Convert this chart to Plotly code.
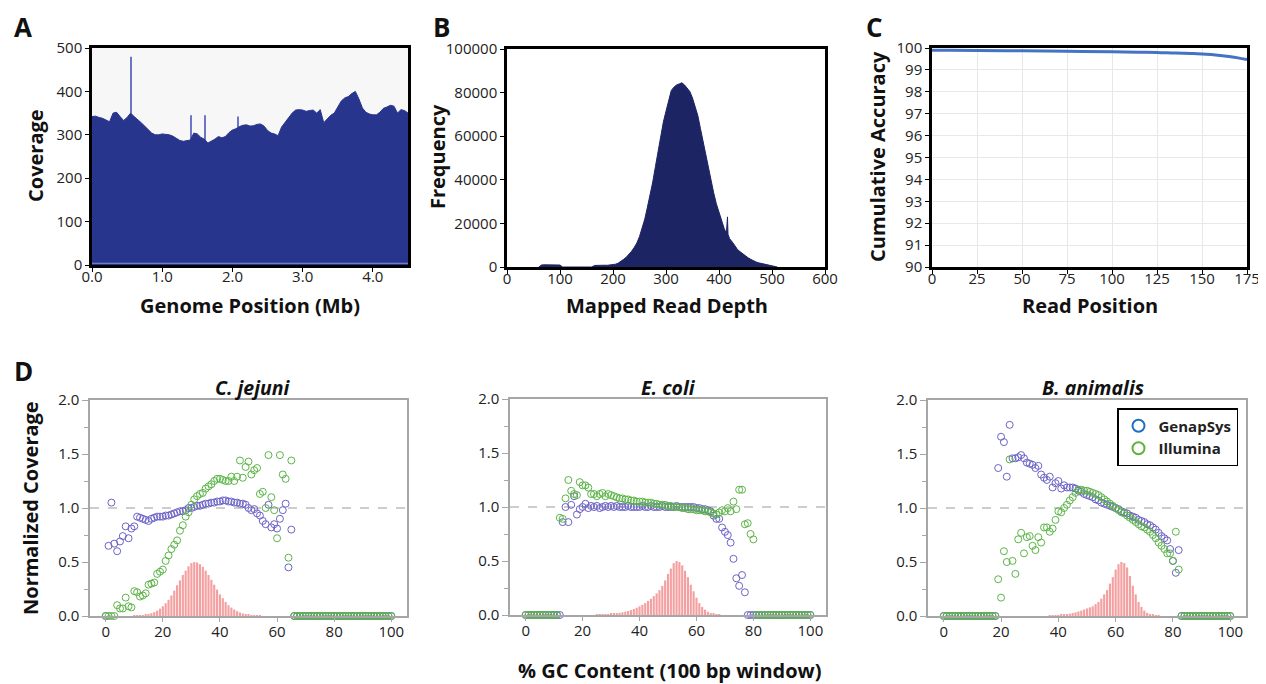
import plotly.graph_objects as go
import numpy as np

FONT = "Open Sans"

# ---------------- Panel A: coverage along genome ----------------
genome_mb = [round(i * 0.05, 2) for i in range(91)]
coverage = [342, 343, 340, 338, 334, 330, 350, 352, 342, 333,
            340, 350, 342, 336, 328, 320, 311, 304, 300, 300,
            302, 301, 300, 297, 292, 287, 285, 286, 288, 304,
            302, 294, 290, 281, 285, 290, 296, 293, 296, 305,
            311, 314, 319, 322, 323, 320, 321, 324, 325, 320,
            310, 304, 302, 298, 318, 328, 340, 350, 357, 358,
            357, 354, 356, 357, 350, 358, 328, 337, 345, 350,
            365, 378, 385, 388, 395, 400, 383, 362, 352, 348,
            346, 346, 352, 361, 364, 368, 366, 350, 358, 356,
            350]
spike_pos = [0.555, 1.405, 1.61, 2.075]
spike_top = [480, 345, 345, 342]
dip_pos = [0.28, 2.55, 3.63]
dip_low = [230, 275, 315]

# ---------------- Panel B: read depth histogram ----------------
depth = [60, 65, 70, 80, 90, 100, 105, 160, 165, 170, 180, 190, 200, 205, 210, 215,
         220, 225, 230, 235, 240, 245, 250, 255, 260, 265, 270, 275, 280, 285,
         290, 295, 300, 305, 310, 315, 320, 325, 330, 335, 340, 345, 350, 355,
         360, 365, 370, 375, 380, 385, 390, 395, 400, 405, 410, 414, 415, 416,
         417, 420, 425, 430, 435, 440, 445, 450, 455, 460, 465, 470, 475, 480,
         485, 490, 495, 500, 505, 510]
frequency = [0, 900, 1000, 1000, 1000, 900, 0, 0, 700, 800, 800, 800, 1000, 1300, 1800, 2500,
             3500, 4500, 5800, 7200, 9000, 11000, 14000, 17500, 22000, 27500, 33000, 39000, 46000, 53000,
             61000, 66500, 71500, 77000, 81000, 82500, 83500, 84000, 84500, 83500, 82000, 80500, 77500, 74000,
             69500, 63500, 57500, 51500, 45000, 39000, 34000, 29000, 25000, 20500, 17500, 15500, 23000, 23000,
             15000, 13000, 11500, 9500, 8000, 7000, 6000, 5000, 4200, 3500, 2800, 2300, 1900, 1600,
             1300, 900, 600, 400, 200, 0]

# ---------------- Panel C: cumulative accuracy ----------------
read_pos = [0, 10, 25, 50, 75, 100, 115, 125, 135, 145, 150, 155, 160, 165, 170, 175]
accuracy = [99.90, 99.90, 99.89, 99.87, 99.85, 99.83, 99.81, 99.80, 99.77, 99.75, 99.73, 99.70, 99.66, 99.61, 99.55, 99.47]

# ---------------- Panel D: GC bias ----------------
gc = list(range(101))
species = ["C. jejuni", "E. coli", "B. animalis"]

cj_gen_start = 0
cj_gen = [0.0, 0.65, 1.05, 0.67, 0.60, 0.69, 0.74, 0.83, 0.72, 0.81,
          0.83, 0.92, 0.91, 0.90, 0.89, 0.88, 0.90, 0.91, 0.92, 0.92,
          0.92, 0.93, 0.93, 0.94, 0.95, 0.96, 0.97, 0.97, 0.98, 1.00,
          1.00, 1.01, 1.02, 1.02, 1.03, 1.04, 1.04, 1.05, 1.05, 1.06,
          1.06, 1.07, 1.07, 1.06, 1.06, 1.05, 1.05, 1.04, 1.04, 1.03,
          1.00, 0.98, 0.99, 0.95, 0.93, 0.88, 0.85, 1.03, 0.82, 0.85,
          0.81, 0.90, 0.98, 1.04, 0.45, 0.80]
cj_ill_start = 0
cj_ill = [0.0, 0.0, 0.0, 0.0, 0.10, 0.07, 0.07, 0.17, 0.09, 0.08,
          0.23, 0.22, 0.18, 0.19, 0.21, 0.29, 0.30, 0.31, 0.39, 0.41,
          0.43, 0.51, 0.56, 0.62, 0.66, 0.70, 0.79, 0.84, 0.92, 0.96,
          1.03, 1.08, 1.11, 1.13, 1.14, 1.18, 1.20, 1.22, 1.25, 1.27,
          1.27, 1.26, 1.25, 1.25, 1.29, 1.25, 1.29, 1.44, 1.28, 1.38,
          1.43, 1.31, 1.35, 1.37, 1.13, 1.15, 1.00, 1.49, 1.10, 0.98,
          0.72, 1.49, 1.31, 1.27, 0.54, 1.44]
cj_dist_start = 10
cj_dist = [0.002, 0.004, 0.006, 0.009, 0.013, 0.018, 0.026, 0.036, 0.05, 0.068,
           0.09, 0.118, 0.15, 0.19, 0.235, 0.285, 0.33, 0.38, 0.42, 0.46,
           0.49, 0.50, 0.495, 0.48, 0.455, 0.42, 0.38, 0.335, 0.29, 0.245,
           0.20, 0.165, 0.13, 0.10, 0.078, 0.06, 0.045, 0.033, 0.024, 0.017,
           0.012, 0.008, 0.005, 0.003, 0.002]

ec_gen_start = 13
ec_gen = [0.86, 1.00, 0.86, 1.02, 1.10, 0.93, 0.98, 1.00, 1.03, 0.99,
          1.01, 1.00, 1.01, 0.99, 1.00, 1.01, 1.00, 1.01, 1.00, 1.01,
          1.00, 1.00, 1.00, 1.01, 1.00, 1.00, 1.00, 1.00, 1.01, 1.00,
          1.00, 1.01, 1.00, 1.00, 1.00, 1.01, 1.00, 1.00, 1.00, 1.00,
          1.01, 1.00, 1.00, 1.00, 1.00, 1.00, 1.00, 0.99, 0.99, 0.98,
          0.98, 0.97, 0.96, 0.92, 0.89, 0.89, 0.81, 0.77, 0.74, 0.67,
          0.52, 0.34, 0.27, 0.37, 0.21]
ec_ill_start = 12
ec_ill = [0.90, 0.89, 1.08, 1.25, 1.15, 1.12, 1.11, 1.23, 1.20, 1.20,
          1.18, 1.12, 1.12, 1.10, 1.12, 1.13, 1.10, 1.12, 1.11, 1.10,
          1.09, 1.08, 1.08, 1.07, 1.07, 1.06, 1.06, 1.05, 1.05, 1.05,
          1.04, 1.04, 1.04, 1.03, 1.03, 1.02, 1.02, 1.02, 1.01, 1.01,
          1.00, 1.00, 1.00, 0.99, 0.99, 0.98, 0.98, 0.98, 0.97, 0.97,
          0.97, 0.96, 0.96, 0.95, 0.94, 0.93, 0.95, 0.97, 0.96, 0.99,
          0.96, 1.05, 0.98, 1.16, 1.16, 0.84, 0.85, 0.75, 0.70]
ec_dist_start = 25
ec_dist = [0.003, 0.004, 0.005, 0.006, 0.008, 0.010, 0.013, 0.016, 0.020, 0.025,
           0.031, 0.037, 0.045, 0.055, 0.067, 0.080, 0.095, 0.110, 0.130, 0.150,
           0.175, 0.200, 0.230, 0.270, 0.320, 0.380, 0.430, 0.480, 0.500, 0.490,
           0.460, 0.410, 0.350, 0.280, 0.220, 0.160, 0.110, 0.075, 0.050, 0.030,
           0.018, 0.010, 0.006, 0.003]

ba_gen_start = 19
ba_gen = [1.37, 1.66, 1.61, 1.29, 1.77, 1.46, 1.46, 1.47, 1.49, 1.46,
          1.42, 1.41, 1.40, 1.37, 1.39, 1.31, 1.28, 1.26, 1.29, 1.19,
          1.23, 1.25, 1.18, 1.21, 1.19, 1.19, 1.19, 1.18, 1.16, 1.15,
          1.13, 1.12, 1.11, 1.10, 1.08, 1.07, 1.05, 1.04, 1.03, 1.02,
          1.01, 1.00, 0.99, 0.97, 0.96, 0.95, 0.93, 0.92, 0.91, 0.89,
          0.88, 0.87, 0.85, 0.84, 0.82, 0.80, 0.77, 0.74, 0.72, 0.70,
          0.62, 0.51, 0.40, 0.61]
ba_ill_start = 19
ba_ill = [0.34, 0.17, 0.60, 0.50, 1.45, 0.51, 0.39, 0.71, 0.77, 0.58,
          0.73, 0.74, 0.65, 0.61, 0.73, 0.68, 0.82, 0.82, 0.78, 0.81,
          0.89, 0.97, 0.96, 1.00, 1.03, 1.07, 1.10, 1.14, 1.17, 1.17,
          1.16, 1.16, 1.15, 1.14, 1.13, 1.12, 1.10, 1.08, 1.06, 1.04,
          1.02, 1.00, 0.98, 0.96, 0.95, 0.93, 0.91, 0.89, 0.87, 0.85,
          0.83, 0.82, 0.80, 0.78, 0.75, 0.72, 0.68, 0.65, 0.62, 0.58,
          0.58, 0.51, 0.78, 0.43]
ba_dist_start = 37
ba_dist = [0.003, 0.005, 0.006, 0.008, 0.011, 0.014, 0.018, 0.022, 0.028, 0.034,
           0.042, 0.050, 0.060, 0.070, 0.080, 0.090, 0.110, 0.130, 0.160, 0.200,
           0.240, 0.300, 0.360, 0.430, 0.480, 0.500, 0.490, 0.450, 0.370, 0.280,
           0.200, 0.130, 0.085, 0.050, 0.030, 0.018, 0.010, 0.006, 0.003]


def pad(start, vals, n=101):
    out = [0.0] * start + list(vals)
    return out + [0.0] * (n - len(out))


gen_series = [pad(cj_gen_start, cj_gen), pad(ec_gen_start, ec_gen), pad(ba_gen_start, ba_gen)]
ill_series = [pad(cj_ill_start, cj_ill), pad(ec_ill_start, ec_ill), pad(ba_ill_start, ba_ill)]
dist_series = [(cj_dist_start, cj_dist), (ec_dist_start, ec_dist), (ba_dist_start, ba_dist)]

# ---------------- styling ----------------
NAVY_A = "#28358c"
NAVY_B = "#1d2463"
LINE_C = "#4472c4"
PURPLE = "#6c63c6"
GREEN = "#5cb548"
RED = "#f4a0a0"
OFF = 8                      # page body margin
W, H = 1266 - OFF, 684 - OFF


def px(x):
    return (x - OFF) / W


def py(y):
    return 1 - (y - OFF) / H


fig = go.Figure()

# A
fig.add_trace(go.Scatter(x=genome_mb, y=coverage, mode="lines", fill="tozeroy",
                         line=dict(color=NAVY_A, width=1), fillcolor=NAVY_A,
                         xaxis="x", yaxis="y", showlegend=False, hoverinfo="skip"))
spike_base = list(np.interp(spike_pos, genome_mb, coverage))
fig.add_trace(go.Bar(x=spike_pos, y=[t - b for t, b in zip(spike_top, spike_base)], base=spike_base,
                     width=0.016, marker=dict(color="#6d75c6", line=dict(width=0)),
                     xaxis="x", yaxis="y", showlegend=False, hoverinfo="skip"))
dip_top = list(np.interp(dip_pos, genome_mb, coverage))
fig.add_trace(go.Bar(x=dip_pos, y=[t - b for t, b in zip(dip_top, dip_low)], base=dip_low,
                     width=0.012, marker=dict(color="#8990d0", line=dict(width=0)),
                     xaxis="x", yaxis="y", showlegend=False, hoverinfo="skip"))

# B
fig.add_trace(go.Scatter(x=depth, y=frequency, mode="lines", fill="tozeroy",
                         line=dict(color=NAVY_B, width=1), fillcolor=NAVY_B,
                         xaxis="x2", yaxis="y2", showlegend=False, hoverinfo="skip"))

# C
fig.add_trace(go.Scatter(x=read_pos, y=accuracy, mode="lines", line=dict(color=LINE_C, width=3, shape="spline"),
                         xaxis="x3", yaxis="y3", showlegend=False, cliponaxis=False, hoverinfo="skip"))

# D
for k in range(3):
    xa, ya = f"x{k + 4}", f"y{k + 4}"
    s, d = dist_series[k]
    fig.add_trace(go.Bar(x=list(range(s, s + len(d))), y=d, width=0.75,
                         marker=dict(color=RED, line=dict(width=0)),
                         xaxis=xa, yaxis=ya, showlegend=False, hoverinfo="skip"))
    fig.add_trace(go.Scatter(x=gc, y=gen_series[k], mode="markers",
                             marker=dict(symbol="circle-open", size=7, color=PURPLE, line=dict(width=1)),
                             xaxis=xa, yaxis=ya, showlegend=False, cliponaxis=False, hoverinfo="skip"))
    fig.add_trace(go.Scatter(x=gc, y=ill_series[k], mode="markers",
                             marker=dict(symbol="circle-open", size=7, color=GREEN, line=dict(width=1)),
                             xaxis=xa, yaxis=ya, showlegend=False, cliponaxis=False, hoverinfo="skip"))

# legend-only entries
fig.add_trace(go.Scatter(x=[None], y=[None], mode="markers", name="<b>GenapSys</b>",
                         marker=dict(symbol="circle-open", size=10, color="#1f6fc0", line=dict(width=3)),
                         xaxis="x6", yaxis="y6"))
fig.add_trace(go.Scatter(x=[None], y=[None], mode="markers", name="<b>Illumina</b>",
                         marker=dict(symbol="circle-open", size=10, color="#5fb33b", line=dict(width=3)),
                         xaxis="x6", yaxis="y6"))

tickfont = dict(family=FONT, size=15, color="#222")


def frame_axis(**kw):
    d = dict(showline=True, mirror=True, linecolor="black", linewidth=2.5,
             ticks="outside", ticklen=4, tickcolor="black", tickwidth=1,
             showgrid=False, zeroline=False, tickfont=tickfont, automargin=False)
    d.update(kw)
    return d


def d_axis(**kw):
    d = dict(showline=True, mirror=True, linecolor="#a6a6a6", linewidth=1.5,
             ticks="outside", ticklen=5, tickcolor="#a6a6a6", tickwidth=1,
             showgrid=False, zeroline=False, tickfont=tickfont, automargin=False)
    d.update(kw)
    return d


layout = dict(
    width=W, height=H, margin=dict(l=0, r=0, t=0, b=0, pad=0), autosize=False,
    paper_bgcolor="white", plot_bgcolor="white",
    font=dict(family=FONT, size=15, color="#222"),
    barmode="overlay",
    xaxis=frame_axis(domain=[px(92), px(408)], anchor="y", range=[0, 4.5],
                     tickvals=[0, 1, 2, 3, 4], tickformat=".1f", ticklabelstandoff=-8),
    yaxis=frame_axis(domain=[py(265), py(48)], anchor="x", range=[0, 500], dtick=100),
    xaxis2=frame_axis(domain=[px(507), px(825)], anchor="y2", range=[0, 600], dtick=100,
                      ticklabelstandoff=-8),
    yaxis2=frame_axis(domain=[py(267), py(49)], anchor="x2", range=[0, 100000], dtick=20000,
                      tickformat="d"),
    xaxis3=frame_axis(domain=[px(932), px(1247)], anchor="y3", range=[0, 175], dtick=25,
                      showgrid=True, gridcolor="#e8e8e8", ticklabelstandoff=-8),
    yaxis3=frame_axis(domain=[py(267), py(48)], anchor="x3", range=[90, 100], dtick=1,
                      showgrid=True, gridcolor="#e8e8e8"),
    legend=dict(x=px(1117), y=py(408), xanchor="left", yanchor="top",
                bordercolor="black", borderwidth=1.5, bgcolor="white",
                font=dict(family=FONT, size=15, color="#222"),
                itemsizing="constant", tracegroupgap=2),
)
d_domains = [(90, 407, 400, 616), (510, 826, 399, 615), (928, 1246, 400, 616)]
for k, (x0, x1, y0, y1) in enumerate(d_domains):
    n = k + 4
    layout[f"xaxis{n}"] = d_axis(domain=[px(x0), px(x1)], anchor=f"y{n}", range=[-5.5, 105.5],
                                 tickvals=[0, 20, 40, 60, 80, 100], ticklen=4, ticklabelstandoff=-3)
    layout[f"yaxis{n}"] = d_axis(domain=[py(y1), py(y0)], anchor=f"x{n}", range=[0, 2],
                                 tickvals=[0, 0.5, 1.0, 1.5, 2.0], tickformat=".1f", ticklen=6,
                                 minor=dict(ticks="outside", dtick=0.25, ticklen=4,
                                            tickcolor="#a6a6a6", showgrid=False))
fig.update_layout(**layout)

shapes = [
    dict(type="rect", xref="x domain", yref="y domain", x0=0, x1=1, y0=0, y1=1,
         fillcolor="#f7f7f7", line=dict(width=0), layer="below"),
    dict(type="line", xref="x domain", yref="y", x0=0, x1=1, y0=4, y1=4,
         line=dict(color="#8a93d6", width=1)),
]
for k in range(3):
    n = k + 4
    shapes.append(dict(type="line", xref=f"x{n} domain", yref=f"y{n}", x0=0, x1=1, y0=1, y1=1,
                       line=dict(color="#9a9a9a", width=1, dash="dash"), layer="below"))
fig.update_layout(shapes=shapes)

ann = []


def add_text(text, x, y, size, angle=0):
    ann.append(dict(text=text, x=px(x), y=py(y), xref="paper", yref="paper",
                    xanchor="center", yanchor="middle", showarrow=False, textangle=angle,
                    font=dict(family=FONT, size=size, color="#111")))


for letter, x, y in [("A", 23, 27), ("B", 441, 27), ("C", 874, 27), ("D", 23, 371)]:
    add_text(f"<b>{letter}</b>", x, y, 26)
TS = 20
add_text("<b>Coverage</b>", 35, 156, TS, -90)
add_text("<b>Genome Position (Mb)</b>", 250, 305, TS)
add_text("<b>Frequency</b>", 438, 157, TS, -90)
add_text("<b>Mapped Read Depth</b>", 667, 305, TS)
add_text("<b>Cumulative Accuracy</b>", 878, 157, TS, -90)
add_text("<b>Read Position</b>", 1090, 305, TS)
add_text("<b>Normalized Coverage</b>", 30, 508, TS, -90)
add_text("<b>% GC Content (100 bp window)</b>", 670, 670, TS)
for name, x in zip(species, [253, 668, 1093]):
    add_text(f"<b><i>{name}</i></b>", x, 387, 19.5)
fig.update_layout(annotations=ann)

fig.write_html("out.html")
